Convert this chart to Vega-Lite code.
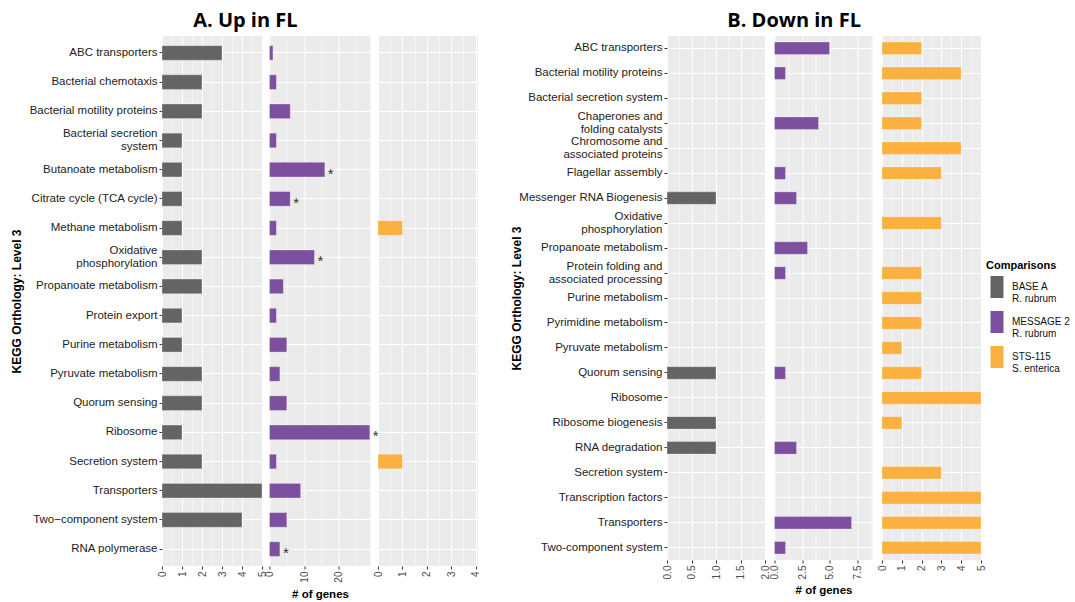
{
  "$schema": "https://vega.github.io/schema/vega-lite/v6.json",
  "padding": {"left": 10, "top": 11, "right": 0, "bottom": 0},
  "background": "#ffffff",
  "datasets": {
    "up": [
      {"comparison": "BASE A", "pathway": "ABC transporters", "genes": 3, "sig": ""},
      {"comparison": "BASE A", "pathway": "Bacterial chemotaxis", "genes": 2, "sig": ""},
      {"comparison": "BASE A", "pathway": "Bacterial motility proteins", "genes": 2, "sig": ""},
      {"comparison": "BASE A", "pathway": "Bacterial secretion system", "genes": 1, "sig": ""},
      {"comparison": "BASE A", "pathway": "Butanoate metabolism", "genes": 1, "sig": ""},
      {"comparison": "BASE A", "pathway": "Citrate cycle (TCA cycle)", "genes": 1, "sig": ""},
      {"comparison": "BASE A", "pathway": "Methane metabolism", "genes": 1, "sig": ""},
      {"comparison": "BASE A", "pathway": "Oxidative phosphorylation", "genes": 2, "sig": ""},
      {"comparison": "BASE A", "pathway": "Propanoate metabolism", "genes": 2, "sig": ""},
      {"comparison": "BASE A", "pathway": "Protein export", "genes": 1, "sig": ""},
      {"comparison": "BASE A", "pathway": "Purine metabolism", "genes": 1, "sig": ""},
      {"comparison": "BASE A", "pathway": "Pyruvate metabolism", "genes": 2, "sig": ""},
      {"comparison": "BASE A", "pathway": "Quorum sensing", "genes": 2, "sig": ""},
      {"comparison": "BASE A", "pathway": "Ribosome", "genes": 1, "sig": ""},
      {"comparison": "BASE A", "pathway": "Secretion system", "genes": 2, "sig": ""},
      {"comparison": "BASE A", "pathway": "Transporters", "genes": 5, "sig": ""},
      {"comparison": "BASE A", "pathway": "Two-component system", "genes": 4, "sig": ""},
      {"comparison": "MESSAGE 2", "pathway": "ABC transporters", "genes": 1, "sig": ""},
      {"comparison": "MESSAGE 2", "pathway": "Bacterial chemotaxis", "genes": 2, "sig": ""},
      {"comparison": "MESSAGE 2", "pathway": "Bacterial motility proteins", "genes": 6, "sig": ""},
      {"comparison": "MESSAGE 2", "pathway": "Bacterial secretion system", "genes": 2, "sig": ""},
      {"comparison": "MESSAGE 2", "pathway": "Butanoate metabolism", "genes": 16, "sig": "*"},
      {"comparison": "MESSAGE 2", "pathway": "Citrate cycle (TCA cycle)", "genes": 6, "sig": "*"},
      {"comparison": "MESSAGE 2", "pathway": "Methane metabolism", "genes": 2, "sig": ""},
      {"comparison": "MESSAGE 2", "pathway": "Oxidative phosphorylation", "genes": 13, "sig": "*"},
      {"comparison": "MESSAGE 2", "pathway": "Propanoate metabolism", "genes": 4, "sig": ""},
      {"comparison": "MESSAGE 2", "pathway": "Protein export", "genes": 2, "sig": ""},
      {"comparison": "MESSAGE 2", "pathway": "Purine metabolism", "genes": 5, "sig": ""},
      {"comparison": "MESSAGE 2", "pathway": "Pyruvate metabolism", "genes": 3, "sig": ""},
      {"comparison": "MESSAGE 2", "pathway": "Quorum sensing", "genes": 5, "sig": ""},
      {"comparison": "MESSAGE 2", "pathway": "Ribosome", "genes": 29, "sig": "*"},
      {"comparison": "MESSAGE 2", "pathway": "Secretion system", "genes": 2, "sig": ""},
      {"comparison": "MESSAGE 2", "pathway": "Transporters", "genes": 9, "sig": ""},
      {"comparison": "MESSAGE 2", "pathway": "Two-component system", "genes": 5, "sig": ""},
      {"comparison": "MESSAGE 2", "pathway": "RNA polymerase", "genes": 3, "sig": "*"},
      {"comparison": "STS-115", "pathway": "Methane metabolism", "genes": 1, "sig": ""},
      {"comparison": "STS-115", "pathway": "Secretion system", "genes": 1, "sig": ""}
    ],
    "down": [
      {"comparison": "BASE A", "pathway": "Messenger RNA Biogenesis", "genes": 1},
      {"comparison": "BASE A", "pathway": "Quorum sensing", "genes": 1},
      {"comparison": "BASE A", "pathway": "Ribosome biogenesis", "genes": 1},
      {"comparison": "BASE A", "pathway": "RNA degradation", "genes": 1},
      {"comparison": "MESSAGE 2", "pathway": "ABC transporters", "genes": 5},
      {"comparison": "MESSAGE 2", "pathway": "Bacterial motility proteins", "genes": 1},
      {"comparison": "MESSAGE 2", "pathway": "Chaperones and folding catalysts", "genes": 4},
      {"comparison": "MESSAGE 2", "pathway": "Flagellar assembly", "genes": 1},
      {"comparison": "MESSAGE 2", "pathway": "Messenger RNA Biogenesis", "genes": 2},
      {"comparison": "MESSAGE 2", "pathway": "Propanoate metabolism", "genes": 3},
      {"comparison": "MESSAGE 2", "pathway": "Protein folding and associated processing", "genes": 1},
      {"comparison": "MESSAGE 2", "pathway": "Quorum sensing", "genes": 1},
      {"comparison": "MESSAGE 2", "pathway": "RNA degradation", "genes": 2},
      {"comparison": "MESSAGE 2", "pathway": "Transporters", "genes": 7},
      {"comparison": "MESSAGE 2", "pathway": "Two-component system", "genes": 1},
      {"comparison": "STS-115", "pathway": "ABC transporters", "genes": 2},
      {"comparison": "STS-115", "pathway": "Bacterial motility proteins", "genes": 4},
      {"comparison": "STS-115", "pathway": "Bacterial secretion system", "genes": 2},
      {"comparison": "STS-115", "pathway": "Chaperones and folding catalysts", "genes": 2},
      {"comparison": "STS-115", "pathway": "Chromosome and associated proteins", "genes": 4},
      {"comparison": "STS-115", "pathway": "Flagellar assembly", "genes": 3},
      {"comparison": "STS-115", "pathway": "Oxidative phosphorylation", "genes": 3},
      {"comparison": "STS-115", "pathway": "Protein folding and associated processing", "genes": 2},
      {"comparison": "STS-115", "pathway": "Purine metabolism", "genes": 2},
      {"comparison": "STS-115", "pathway": "Pyrimidine metabolism", "genes": 2},
      {"comparison": "STS-115", "pathway": "Pyruvate metabolism", "genes": 1},
      {"comparison": "STS-115", "pathway": "Quorum sensing", "genes": 2},
      {"comparison": "STS-115", "pathway": "Ribosome", "genes": 5},
      {"comparison": "STS-115", "pathway": "Ribosome biogenesis", "genes": 1},
      {"comparison": "STS-115", "pathway": "Secretion system", "genes": 3},
      {"comparison": "STS-115", "pathway": "Transcription factors", "genes": 5},
      {"comparison": "STS-115", "pathway": "Transporters", "genes": 5},
      {"comparison": "STS-115", "pathway": "Two-component system", "genes": 5}
    ]
  },
  "config": {
    "view": {"fill": "#EBEBEB", "stroke": null},
    "font": "Liberation Sans",
    "axis": {
      "labelFont": "Liberation Sans",
      "titleFont": "Liberation Sans",
      "domain": false,
      "gridColor": "#FFFFFF",
      "tickColor": "#333333",
      "labelColor": "#4D4D4D",
      "titleColor": "#000000",
      "labelOverlap": false,
      "labelFlush": false,
      "labelBound": false
    },
    "title": {"font": "Open Sans", "fontWeight": "bold", "fontSize": 20, "color": "#000000", "anchor": "middle"},
    "legend": {
      "titleFont": "Liberation Sans",
      "labelFont": "Liberation Sans",
      "titleFontSize": 11,
      "titleFontWeight": "bold",
      "titleColor": "#000000",
      "labelFontSize": 10,
      "labelColor": "#111111",
      "symbolType": "M-0.59,-1H0.59V1H-0.59Z",
      "symbolSize": 484,
      "symbolStrokeWidth": 0,
      "symbolOpacity": 1,
      "rowPadding": 7,
      "labelOffset": 4,
      "titlePadding": 5
    }
  },
  "spacing": 29,
  "hconcat": [
    {
      "title": {"text": "A. Up in FL", "offset": 5},
      "spacing": 7.5,
      "bounds": "flush",
      "hconcat": [
        {
          "width": 100, "height": 530,
          "data": {"name": "up"},
          "transform": [{"filter": "datum.comparison == 'BASE A'"}],
          "mark": {"type": "bar", "stroke": "#FFFFFF", "strokeWidth": 0.5, "strokeOpacity": 0.6},
          "encoding": {
            "y": {"field": "pathway", "type": "nominal",
              "scale": {"domain": ["ABC transporters","Bacterial chemotaxis","Bacterial motility proteins","Bacterial secretion system","Butanoate metabolism","Citrate cycle (TCA cycle)","Methane metabolism","Oxidative phosphorylation","Propanoate metabolism","Protein export","Purine metabolism","Pyruvate metabolism","Quorum sensing","Ribosome","Secretion system","Transporters","Two-component system","RNA polymerase"], "paddingInner": 0.5, "paddingOuter": 0.33},
              "axis": {"title": "KEGG Orthology: Level 3", "titleFontSize": 12, "titleFontWeight": "bold", "titlePadding": 6, "labelFontSize": 11.5, "labelColor": "#222222", "labelLineHeight": 13.5, "tickSize": 3, "labelPadding": 2, "bandPosition": 0.5, "grid": true, "gridWidth": 1,
                "labelOffset": {"condition": {"test": "datum.value == 'Bacterial secretion system' || datum.value == 'Oxidative phosphorylation'", "value": -6.5}, "value": 0},
                "labelExpr": "datum.label == 'Bacterial secretion system' ? ['Bacterial secretion', 'system'] : datum.label == 'Oxidative phosphorylation' ? ['Oxidative', 'phosphorylation'] : datum.label == 'Two-component system' ? 'Two\u2212component system' : datum.label"}},
            "x": {"field": "genes", "type": "quantitative", "scale": {"domain": [0, 5], "nice": false},
              "axis": {"title": null, "values": [0,0.5,1,1.5,2,2.5,3,3.5,4,4.5,5], "labelAngle": -90, "labelAlign": "right", "labelBaseline": "middle", "labelFontSize": 10, "tickSize": 3, "labelPadding": 2, "grid": true,
                "labelExpr": "datum.value % 1 != 0 ? '' : format(datum.value, 'd')",
                "gridWidth": {"condition": {"test": "datum.value % 1 != 0", "value": 0.5}, "value": 1},
                "tickOpacity": {"condition": {"test": "datum.value % 1 != 0", "value": 0}, "value": 1}}},
            "color": {"field": "comparison", "type": "nominal", "scale": {"domain": ["BASE A", "MESSAGE 2", "STS-115"], "range": ["#646464", "#7D4F9F", "#FBB040"]},
              "legend": {"title": "Comparisons", "orient": "none", "legendX": 824, "legendY": 224, "labelExpr": "datum.label == 'BASE A' ? ['BASE A', 'R. rubrum'] : datum.label == 'MESSAGE 2' ? ['MESSAGE 2', 'R. rubrum'] : ['STS-115', 'S. enterica']"}}
          }
        },
        {
          "width": 101, "height": 530,
          "data": {"name": "up"},
          "transform": [{"filter": "datum.comparison == 'MESSAGE 2'"}],
          "encoding": {
            "y": {"field": "pathway", "type": "nominal",
              "scale": {"domain": ["ABC transporters","Bacterial chemotaxis","Bacterial motility proteins","Bacterial secretion system","Butanoate metabolism","Citrate cycle (TCA cycle)","Methane metabolism","Oxidative phosphorylation","Propanoate metabolism","Protein export","Purine metabolism","Pyruvate metabolism","Quorum sensing","Ribosome","Secretion system","Transporters","Two-component system","RNA polymerase"], "paddingInner": 0.5, "paddingOuter": 0.33},
              "axis": {"title": null, "labels": false, "ticks": false, "bandPosition": 0.5, "grid": true, "gridWidth": 1}},
            "x": {"field": "genes", "type": "quantitative", "scale": {"domain": [0, 29.2], "nice": false},
              "axis": {"title": "# of genes", "titleFontSize": 11.5, "titleFontWeight": "bold", "titlePadding": 6, "values": [0,5,10,15,20,25], "labelAngle": -90, "labelAlign": "right", "labelBaseline": "middle", "labelFontSize": 10, "tickSize": 3, "labelPadding": 2, "grid": true,
                "labelExpr": "datum.value % 10 != 0 ? '' : format(datum.value, 'd')",
                "gridWidth": {"condition": {"test": "datum.value % 10 != 0", "value": 0.5}, "value": 1},
                "tickOpacity": {"condition": {"test": "datum.value % 10 != 0", "value": 0}, "value": 1}}}
          },
          "layer": [
            {
              "mark": {"type": "bar", "stroke": "#FFFFFF", "strokeWidth": 0.5, "strokeOpacity": 0.6},
              "encoding": {
                "color": {"field": "comparison", "type": "nominal", "scale": {"domain": ["BASE A", "MESSAGE 2", "STS-115"], "range": ["#646464", "#7D4F9F", "#FBB040"]},
                  "legend": {"title": "Comparisons", "orient": "none", "legendX": 824, "legendY": 224, "labelExpr": "datum.label == 'BASE A' ? ['BASE A', 'R. rubrum'] : datum.label == 'MESSAGE 2' ? ['MESSAGE 2', 'R. rubrum'] : ['STS-115', 'S. enterica']"}}
              }
            },
            {
              "transform": [{"filter": "datum.sig == '*'"}],
              "mark": {"type": "text", "align": "left", "baseline": "middle", "dx": 3, "dy": 4, "fontSize": 15, "color": "#333333", "font": "Liberation Sans"},
              "encoding": {"text": {"field": "sig"}}
            }
          ]
        },
        {
          "width": 100, "height": 530,
          "data": {"name": "up"},
          "transform": [{"filter": "datum.comparison == 'STS-115'"}],
          "mark": {"type": "bar", "stroke": "#FFFFFF", "strokeWidth": 0.5, "strokeOpacity": 0.6},
          "encoding": {
            "y": {"field": "pathway", "type": "nominal",
              "scale": {"domain": ["ABC transporters","Bacterial chemotaxis","Bacterial motility proteins","Bacterial secretion system","Butanoate metabolism","Citrate cycle (TCA cycle)","Methane metabolism","Oxidative phosphorylation","Propanoate metabolism","Protein export","Purine metabolism","Pyruvate metabolism","Quorum sensing","Ribosome","Secretion system","Transporters","Two-component system","RNA polymerase"], "paddingInner": 0.5, "paddingOuter": 0.33},
              "axis": {"title": null, "labels": false, "ticks": false, "bandPosition": 0.5, "grid": true, "gridWidth": 1}},
            "x": {"field": "genes", "type": "quantitative", "scale": {"domain": [0, 4.1], "nice": false},
              "axis": {"title": null, "values": [0,0.5,1,1.5,2,2.5,3,3.5,4], "labelAngle": -90, "labelAlign": "right", "labelBaseline": "middle", "labelFontSize": 10, "tickSize": 3, "labelPadding": 2, "grid": true,
                "labelExpr": "datum.value % 1 != 0 ? '' : format(datum.value, 'd')",
                "gridWidth": {"condition": {"test": "datum.value % 1 != 0", "value": 0.5}, "value": 1},
                "tickOpacity": {"condition": {"test": "datum.value % 1 != 0", "value": 0}, "value": 1}}},
            "color": {"field": "comparison", "type": "nominal", "scale": {"domain": ["BASE A", "MESSAGE 2", "STS-115"], "range": ["#646464", "#7D4F9F", "#FBB040"]},
              "legend": {"title": "Comparisons", "orient": "none", "legendX": 824, "legendY": 224, "labelExpr": "datum.label == 'BASE A' ? ['BASE A', 'R. rubrum'] : datum.label == 'MESSAGE 2' ? ['MESSAGE 2', 'R. rubrum'] : ['STS-115', 'S. enterica']"}}
          }
        }
      ]
    },
    {
      "title": {"text": "B. Down in FL", "offset": 5, "dx": 46},
      "spacing": 9.5,
      "bounds": "flush",
      "hconcat": [
        {
          "width": 98, "height": 524,
          "data": {"name": "down"},
          "transform": [{"filter": "datum.comparison == 'BASE A'"}],
          "mark": {"type": "bar", "stroke": "#FFFFFF", "strokeWidth": 0.5, "strokeOpacity": 0.6},
          "encoding": {
            "y": {"field": "pathway", "type": "nominal",
              "scale": {"domain": ["ABC transporters","Bacterial motility proteins","Bacterial secretion system","Chaperones and folding catalysts","Chromosome and associated proteins","Flagellar assembly","Messenger RNA Biogenesis","Oxidative phosphorylation","Propanoate metabolism","Protein folding and associated processing","Purine metabolism","Pyrimidine metabolism","Pyruvate metabolism","Quorum sensing","Ribosome","Ribosome biogenesis","RNA degradation","Secretion system","Transcription factors","Transporters","Two-component system"], "paddingInner": 0.5, "paddingOuter": 0.24},
              "axis": {"title": "KEGG Orthology: Level 3", "titleFontSize": 12, "titleFontWeight": "bold", "titlePadding": -5, "labelFontSize": 11.5, "labelColor": "#222222", "labelLineHeight": 13.5, "tickSize": 3, "labelPadding": 2, "bandPosition": 0.5, "grid": true, "gridWidth": 1,
                "labelOffset": {"condition": {"test": "datum.value == 'Chaperones and folding catalysts' || datum.value == 'Chromosome and associated proteins' || datum.value == 'Oxidative phosphorylation' || datum.value == 'Protein folding and associated processing'", "value": -6.5}, "value": 0},
                "labelExpr": "datum.label == 'Chaperones and folding catalysts' ? ['Chaperones and', 'folding catalysts'] : datum.label == 'Chromosome and associated proteins' ? ['Chromosome and', 'associated proteins'] : datum.label == 'Oxidative phosphorylation' ? ['Oxidative', 'phosphorylation'] : datum.label == 'Protein folding and associated processing' ? ['Protein folding and', 'associated processing'] : datum.label"}},
            "x": {"field": "genes", "type": "quantitative", "scale": {"domain": [0, 2], "nice": false},
              "axis": {"title": null, "values": [0,0.25,0.5,0.75,1,1.25,1.5,1.75,2], "labelAngle": -90, "labelAlign": "right", "labelBaseline": "middle", "labelFontSize": 10, "tickSize": 3, "labelPadding": 2, "grid": true,
                "labelExpr": "datum.value % 0.5 != 0 ? '' : format(datum.value, '.1f')",
                "gridWidth": {"condition": {"test": "datum.value % 0.5 != 0", "value": 0.5}, "value": 1},
                "tickOpacity": {"condition": {"test": "datum.value % 0.5 != 0", "value": 0}, "value": 1}}},
            "color": {"field": "comparison", "type": "nominal", "scale": {"domain": ["BASE A", "MESSAGE 2", "STS-115"], "range": ["#646464", "#7D4F9F", "#FBB040"]},
              "legend": {"title": "Comparisons", "orient": "none", "legendX": 824, "legendY": 224, "labelExpr": "datum.label == 'BASE A' ? ['BASE A', 'R. rubrum'] : datum.label == 'MESSAGE 2' ? ['MESSAGE 2', 'R. rubrum'] : ['STS-115', 'S. enterica']"}}
          }
        },
        {
          "width": 98, "height": 524,
          "data": {"name": "down"},
          "transform": [{"filter": "datum.comparison == 'MESSAGE 2'"}],
          "mark": {"type": "bar", "stroke": "#FFFFFF", "strokeWidth": 0.5, "strokeOpacity": 0.6},
          "encoding": {
            "y": {"field": "pathway", "type": "nominal",
              "scale": {"domain": ["ABC transporters","Bacterial motility proteins","Bacterial secretion system","Chaperones and folding catalysts","Chromosome and associated proteins","Flagellar assembly","Messenger RNA Biogenesis","Oxidative phosphorylation","Propanoate metabolism","Protein folding and associated processing","Purine metabolism","Pyrimidine metabolism","Pyruvate metabolism","Quorum sensing","Ribosome","Ribosome biogenesis","RNA degradation","Secretion system","Transcription factors","Transporters","Two-component system"], "paddingInner": 0.5, "paddingOuter": 0.24},
              "axis": {"title": null, "labels": false, "ticks": false, "bandPosition": 0.5, "grid": true, "gridWidth": 1}},
            "x": {"field": "genes", "type": "quantitative", "scale": {"domain": [0, 8.9], "nice": false},
              "axis": {"title": "# of genes", "titleFontSize": 11.5, "titleFontWeight": "bold", "titlePadding": 6, "values": [0,1.25,2.5,3.75,5,6.25,7.5,8.75], "labelAngle": -90, "labelAlign": "right", "labelBaseline": "middle", "labelFontSize": 10, "tickSize": 3, "labelPadding": 2, "grid": true,
                "labelExpr": "datum.value % 2.5 != 0 ? '' : format(datum.value, '.1f')",
                "gridWidth": {"condition": {"test": "datum.value % 2.5 != 0", "value": 0.5}, "value": 1},
                "tickOpacity": {"condition": {"test": "datum.value % 2.5 != 0", "value": 0}, "value": 1}}},
            "color": {"field": "comparison", "type": "nominal", "scale": {"domain": ["BASE A", "MESSAGE 2", "STS-115"], "range": ["#646464", "#7D4F9F", "#FBB040"]},
              "legend": {"title": "Comparisons", "orient": "none", "legendX": 824, "legendY": 224, "labelExpr": "datum.label == 'BASE A' ? ['BASE A', 'R. rubrum'] : datum.label == 'MESSAGE 2' ? ['MESSAGE 2', 'R. rubrum'] : ['STS-115', 'S. enterica']"}}
          }
        },
        {
          "width": 99, "height": 524,
          "data": {"name": "down"},
          "transform": [{"filter": "datum.comparison == 'STS-115'"}],
          "mark": {"type": "bar", "stroke": "#FFFFFF", "strokeWidth": 0.5, "strokeOpacity": 0.6},
          "encoding": {
            "y": {"field": "pathway", "type": "nominal",
              "scale": {"domain": ["ABC transporters","Bacterial motility proteins","Bacterial secretion system","Chaperones and folding catalysts","Chromosome and associated proteins","Flagellar assembly","Messenger RNA Biogenesis","Oxidative phosphorylation","Propanoate metabolism","Protein folding and associated processing","Purine metabolism","Pyrimidine metabolism","Pyruvate metabolism","Quorum sensing","Ribosome","Ribosome biogenesis","RNA degradation","Secretion system","Transcription factors","Transporters","Two-component system"], "paddingInner": 0.5, "paddingOuter": 0.24},
              "axis": {"title": null, "labels": false, "ticks": false, "bandPosition": 0.5, "grid": true, "gridWidth": 1}},
            "x": {"field": "genes", "type": "quantitative", "scale": {"domain": [0, 5], "nice": false},
              "axis": {"title": null, "values": [0,0.5,1,1.5,2,2.5,3,3.5,4,4.5,5], "labelAngle": -90, "labelAlign": "right", "labelBaseline": "middle", "labelFontSize": 10, "tickSize": 3, "labelPadding": 2, "grid": true,
                "labelExpr": "datum.value % 1 != 0 ? '' : format(datum.value, 'd')",
                "gridWidth": {"condition": {"test": "datum.value % 1 != 0", "value": 0.5}, "value": 1},
                "tickOpacity": {"condition": {"test": "datum.value % 1 != 0", "value": 0}, "value": 1}}},
            "color": {"field": "comparison", "type": "nominal", "scale": {"domain": ["BASE A", "MESSAGE 2", "STS-115"], "range": ["#646464", "#7D4F9F", "#FBB040"]},
              "legend": {"title": "Comparisons", "orient": "none", "legendX": 824, "legendY": 224, "labelExpr": "datum.label == 'BASE A' ? ['BASE A', 'R. rubrum'] : datum.label == 'MESSAGE 2' ? ['MESSAGE 2', 'R. rubrum'] : ['STS-115', 'S. enterica']"}}
          }
        }
      ]
    }
  ]
}
